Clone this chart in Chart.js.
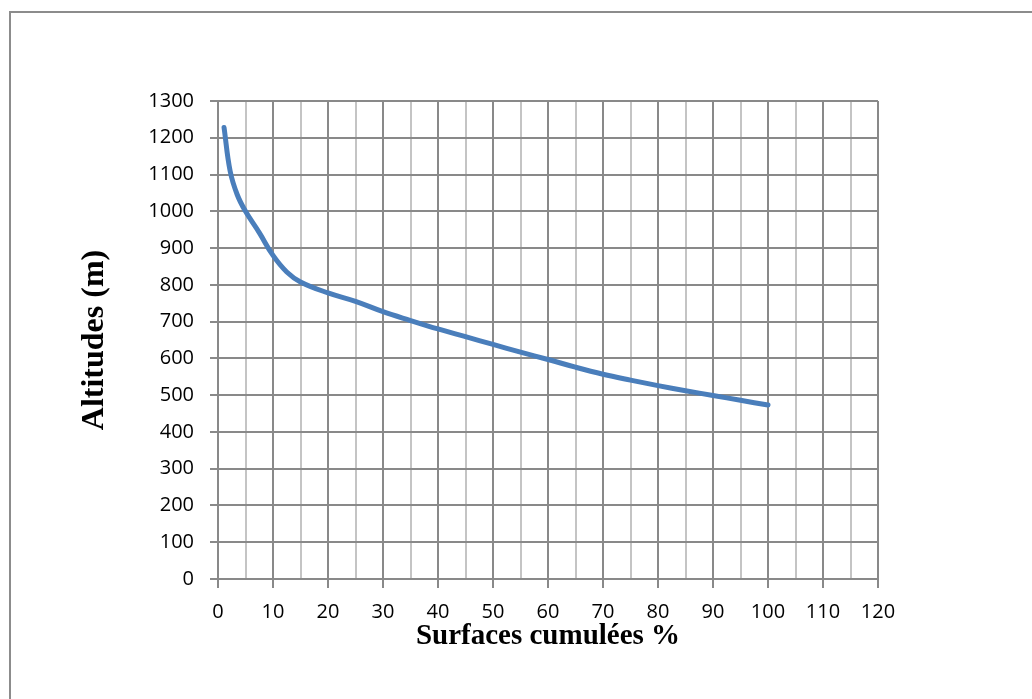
<!DOCTYPE html>
<html>
<head>
<meta charset="utf-8">
<script src="https://cdn.jsdelivr.net/npm/chart.js@4.4.1/dist/chart.umd.min.js"></script>
<style>
  html, body { margin: 0; padding: 0; background: #fff; overflow: hidden; }
  #wrap { position: absolute; left: 0; top: 0; width: 1032px; height: 699px; }
  #frame { position: absolute; left: 9px; top: 11px; width: 1100px; height: 800px; border: 2px solid #8c8c8c; box-sizing: border-box; }
  canvas { position: absolute; left: 0; top: 0; }
</style>
</head>
<body>
<div id="wrap">
  <div id="frame"></div>
  <canvas id="c" width="1032" height="699"></canvas>
</div>
<script>
const surfaces = [1.1, 2.2, 3.5, 5, 7.5, 10, 12.5, 15, 20, 25, 30, 35, 40, 45, 50, 55, 60, 65, 70, 75, 80, 85, 90, 95, 100];
const altitudes = [1228, 1110, 1045, 1000, 942, 880, 835, 808, 778, 755, 727, 703, 680, 659, 638, 617, 597, 576, 557, 541, 526, 512, 499, 486, 473];
const xTitle = 'Surfaces cumulées %';
const yTitle = 'Altitudes (m)';

const MAJOR = '#898989';
const MINOR = '#c4c4c4';
const tickFont = { family: 'Open Sans', size: 20 };

new Chart(document.getElementById('c'), {
  type: 'line',
  data: {
    datasets: [{
      data: surfaces.map((x, i) => ({ x: x, y: altitudes[i] })),
      borderColor: '#4A7EBB',
      borderWidth: 5,
      borderCapStyle: 'round',
      borderJoinStyle: 'round',
      pointRadius: 0,
      tension: 0.4,
      fill: false
    }]
  },
  options: {
    responsive: false,
    animation: false,
    devicePixelRatio: 1,
    layout: { padding: { left: 0, top: 101, right: 154, bottom: 0 } },
    plugins: { legend: { display: false }, tooltip: { enabled: false } },
    scales: {
      x: {
        type: 'linear', min: 0, max: 120,
        afterFit: s => { s.height = 120; },
        ticks: {
          stepSize: 5, autoSkip: false, maxRotation: 0, padding: 12,
          color: '#000', font: tickFont,
          callback: v => (v % 10 === 0 ? String(v) : '')
        },
        grid: {
          color: c => (c.tick && c.tick.value % 10 === 0 ? MAJOR : MINOR),
          lineWidth: 2,
          tickLength: 9,
          tickColor: c => (c.tick && c.tick.value % 10 === 0 ? MAJOR : 'rgba(0,0,0,0)'),
          tickWidth: 2
        },
        border: { color: MAJOR, width: 2 },
        title: { display: true, text: xTitle, color: '#000', font: { family: 'Liberation Serif', size: 29, weight: 'bold' }, padding: { top: 0, bottom: 45 } }
      },
      y: {
        type: 'linear', min: 0, max: 1300,
        afterFit: s => { s.width = 218; },
        ticks: { stepSize: 100, padding: 16, color: '#000', font: tickFont, callback: v => String(v) },
        grid: { color: MAJOR, lineWidth: 2, tickLength: 8, tickColor: MAJOR, tickWidth: 2 },
        border: { color: MAJOR, width: 2 },
        title: { display: true, text: yTitle, color: '#000', font: { family: 'Liberation Serif', size: 32, weight: 'bold' }, padding: { top: 76, bottom: 0 } }
      }
    }
  }
});
</script>
</body>
</html>
